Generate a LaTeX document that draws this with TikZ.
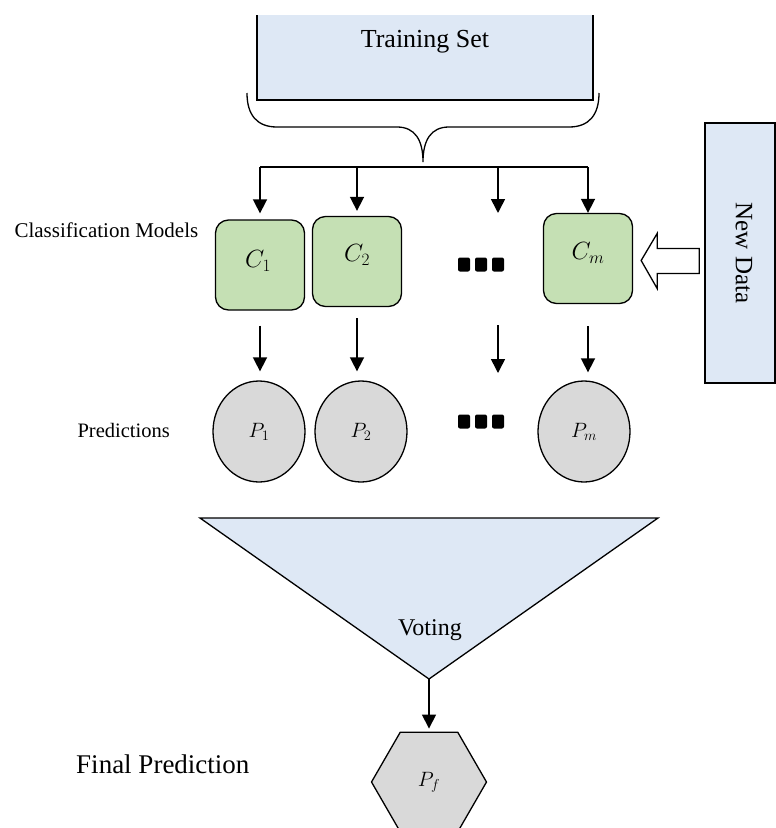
\documentclass[tikz,border=0pt]{standalone}
\usepackage{fontspec}
\setmainfont{Liberation Serif}
\usetikzlibrary{shapes.geometric,arrows.meta,calc}

\definecolor{paleblue}{HTML}{DEE8F5}
\definecolor{palegreen}{HTML}{C5E0B4}
\definecolor{palegray}{HTML}{D9D9D9}

\tikzset{
  outline/.style={draw=black, line width=1.3pt},
  arr/.style={line width=1.6pt, -{Triangle[length=14pt,width=14pt]}},
  cbox/.style={outline, fill=palegreen, rounded corners=13pt,
    minimum width=89pt, minimum height=90pt, inner sep=0pt},
  pnode/.style={outline, fill=palegray, ellipse,
    minimum width=92pt, minimum height=101pt, inner sep=0pt,
    font=\fontsize{21}{24}\selectfont},
  dot/.style={fill=black, rounded corners=2pt, minimum width=12pt,
    minimum height=14pt, inner sep=0pt},
  mathlbl/.style={font=\fontsize{23}{26}\selectfont},
  caption/.style={font=\fontsize{20.5}{24}\selectfont},
  bigcaption/.style={font=\fontsize{25}{30}\selectfont},
}

\begin{document}
\begin{tikzpicture}[x=1pt, y=-1pt]
\clip (0,0) rectangle (776,828);
\useasboundingbox (0,0) rectangle (776,828);

% training set block (open at the top)
\fill[paleblue] (257,15) rectangle (593,100);
\draw[outline] (257,15) -- (257,100) -- (593,100) -- (593,15);
\node[font=\fontsize{26}{30}\selectfont] (ts) at (425,42) {Training Set};

% curly brace under the training set
\draw[line width=1.3pt] (247,93) .. controls (247,115) and (257,127) .. (277,127)
  -- (397,127) .. controls (415,127) and (423,140) .. (423,162)
  .. controls (423,140) and (431,127) .. (449,127)
  -- (569,127) .. controls (589,127) and (599,115) .. (599,93);

% classifiers
\node[cbox] (c1) at (260,265) {};
\node[cbox] (c2) at (357,261.5) {};
\node[cbox] (cm) at (588,258.5) {};
\node[mathlbl] (c1l) at (258,261) {$C_1$};
\node[mathlbl] (c2l) at (357,255) {$C_2$};
\node[mathlbl] (cml) at (588,253) {$C_m$};

\node[dot] (d1) at (464,264.5) {};
\node[dot] (d2) at (481,264.5) {};
\node[dot] (d3) at (498,264.5) {};

% distribution bar
\coordinate (barL) at (260,167);
\coordinate (barR) at (588,167);
\coordinate (midtop) at (498,167);
\coordinate (midend) at (498,213);
\draw[line width=1.3pt] (barL) -- (barR);
\draw[arr, shorten >=6pt] (barL) -- (c1.north);
\draw[arr, shorten >=5pt] (barL -| c2.north) -- (c2.north);
\draw[arr] (midtop) -- (midend);
\draw[arr] (barR) -- (cm.north);

% predictions
\node[pnode] (p1) at (259,431.5) {$P_1$};
\node[pnode] (p2) at (361,431.5) {$P_2$};
\node[pnode] (pm) at (584,431.5) {$P_m$};

\node[dot] (e1) at (464,421.5) {};
\node[dot] (e2) at (481,421.5) {};
\node[dot] (e3) at (498,421.5) {};

\coordinate (midtop2) at (498,325);
\coordinate (midend2) at (498,373);
\draw[arr, shorten <=15pt, shorten >=9pt] (c1.south) -- (c1.south |- p1.north);
\draw[arr, shorten <=11pt, shorten >=9pt] (c2.south) -- (c2.south |- p2.north);
\draw[arr] (midtop2) -- (midend2);
\draw[arr, shorten <=22pt, shorten >=8pt] (cm.south) -- (cm.south |- pm.north);

% new data block with hollow arrow
\node[outline, fill=paleblue, minimum width=70pt, minimum height=260pt,
  inner sep=0pt] (nd) at (740,253) {};
\node[bigcaption, rotate=-90] (ndl) at (744,253) {New Data};
\draw[outline, fill=white, line join=miter]
  ($(cm.east)+(8,2)$) -- ++(16,-27) -- ++(0,15) -- ++(42,0) -- ++(0,25)
  -- ++(-42,0) -- ++(0,15) -- cycle;

% voting funnel
\draw[outline, fill=paleblue] (200,518) -- (658,518) -- (429,679) -- cycle;
\coordinate (vtip) at (429,679);
\node[font=\fontsize{24}{28}\selectfont] (vote) at (430,630) {Voting};

% final prediction
\node[outline, fill=palegray, regular polygon, regular polygon sides=6,
  minimum size=115pt, inner sep=0pt, font=\fontsize{21}{24}\selectfont]
  (pf) at (429,782) {$P_f$};
\draw[arr, shorten >=3pt] (vtip) -- (pf.north);

% row captions
\node[font=\fontsize{21}{24}\selectfont, anchor=west] (cmodels) at (11,230)
  {Classification Models};
\node[caption, anchor=west] (preds) at (74,430) {Predictions};
\node[font=\fontsize{27}{32}\selectfont, anchor=east] (final) at (253,764)
  {Final Prediction};
\end{tikzpicture}
\end{document}
